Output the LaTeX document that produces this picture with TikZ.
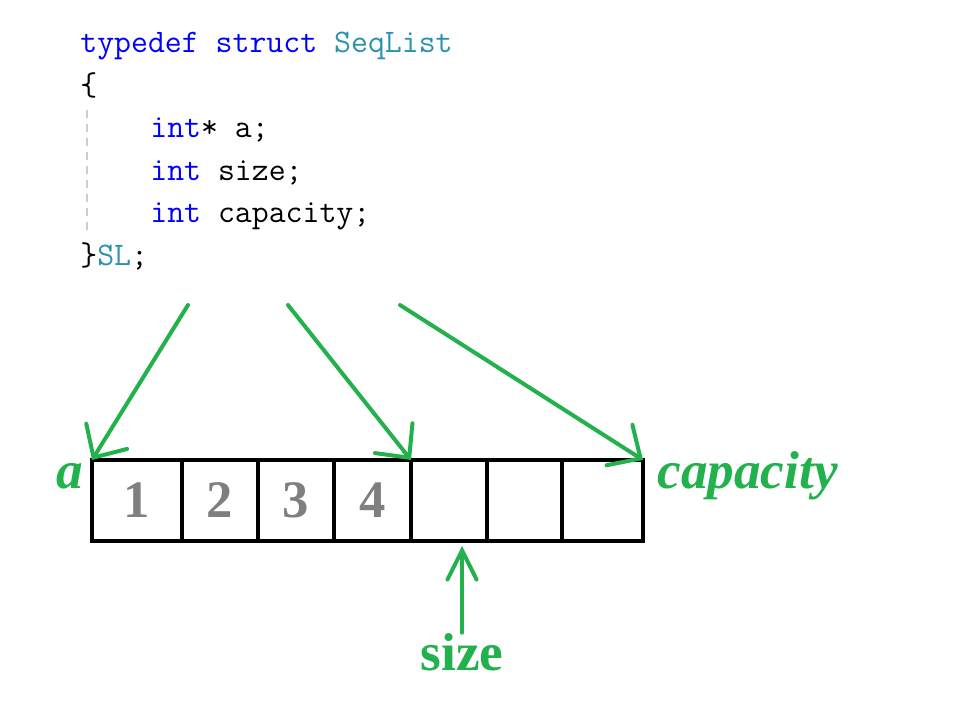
\documentclass[tikz,border=0pt]{standalone}
\usepackage{fontspec}
\newfontfamily\labelfont{Liberation Serif}
\usetikzlibrary{arrows.meta}

\definecolor{kwblue}{RGB}{0,0,255}
\definecolor{typeteal}{RGB}{43,145,175}
\definecolor{ptrgreen}{RGB}{34,177,76}
\definecolor{numgray}{RGB}{127,127,127}

\tikzset{
  code/.style={anchor=base west, inner sep=0pt, font=\ttfamily\fontsize{18.7}{18.7}\selectfont},
  cell/.style={draw, line width=0.08cm, minimum height=81*0.02cm, inner sep=0pt, outer sep=0pt,
    font=\labelfont\bfseries\fontsize{30}{30}\selectfont, text=numgray},
  tag/.style={text=ptrgreen, inner sep=0pt, font=\labelfont\bfseries\fontsize{30.3}{30.3}\selectfont},
  ptr/.style={ptrgreen, line width=0.08cm, line cap=round,
    -{Straight Barb[length=0.5cm, width=0.96cm, line cap=round]}},
}

\begin{document}
\begin{tikzpicture}[x=0.02cm, y=-0.02cm]
  \useasboundingbox (0,0) rectangle (979,706);

  % 结构体定义
  \node[code, text=kwblue] (l1) at (80,52) {typedef struct \textcolor{typeteal}{SeqList}};
  \node[code] (l2) at (80,95) {\{};
  \node[code, text=kwblue] (l3) at (150,137) {int\textcolor{black}{* a;}};
  \node[code, text=kwblue] (l4) at (150,180) {int \textcolor{black}{size;}};
  \node[code, text=kwblue] (l5) at (150,222) {int \textcolor{black}{capacity;}};
  \node[code] (l6) at (80,265) {\}\textcolor{typeteal}{SL}\textcolor{black}{;}};
  \draw[black!20, line width=0.04cm, dash pattern=on 0.16cm off 0.12cm] (87,110) -- (87,235);

  % 顺序表的存储空间
  \foreach \xa/\xb/\num [count=\i] in {92/182/1, 182/258/2, 258/334/3, 334/411/4,
      411/487/{}, 487/562/{}, 562/643/{}}
    \node[cell, minimum width={(\xb-\xa)*0.02cm}] (c\i) at ({(\xa+\xb)/2},500.5) {\num};

  % 三个成员指向的位置
  \coordinate (s1) at (188,305);
  \coordinate (s2) at (288,305);
  \coordinate (s3) at (400,305);
  \draw[ptr] (s1) -- (c1.north west);
  \draw[ptr] (s2) -- (c4.north east);
  \draw[ptr] (s3) -- (c7.north east);

  \node[tag, anchor=base east] (a) at (83,488) {\itshape a};
  \node[tag, anchor=base west] (cap) at (657,488) {\itshape capacity};
  \node[tag, anchor=base] (size) at (462,670) {size};
  \coordinate (sizetip) at (462,546);
  \draw[ptr, -{Straight Barb[length=0.58cm, width=0.58cm, line cap=round]}] (size.north) -- (sizetip);
\end{tikzpicture}
\end{document}
